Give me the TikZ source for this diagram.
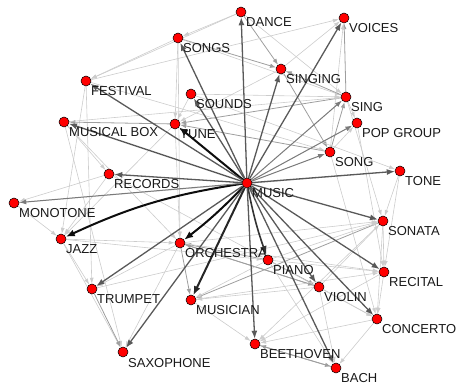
\documentclass[tikz,border=0pt]{standalone}
\usepackage{fontspec}
\setmainfont{Liberation Sans}
\usetikzlibrary{arrows.meta}
\pgfdeclarelayer{background}
\pgfsetlayers{background,main}
\tikzset{
  vert/.style={circle, fill=red, draw=black, line width=0.5pt, minimum size=10pt, inner sep=0pt},
  lab/.style={anchor=base west, inner sep=0pt, text=black!90, font=\fontsize{13}{15}\selectfont},
  lite/.style={draw=black!20, line width=0.6pt, -{Latex[length=6pt,width=4pt]}},
  mid/.style={draw=black!38, line width=0.8pt, -{Latex[length=6pt,width=4.5pt]}},
  hub/.style={draw=black!65, line width=1.3pt, -{Latex[length=8pt,width=6pt]}},
  hubl/.style={draw=black!52, line width=1pt, -{Latex[length=7pt,width=5pt]}},
  hubd/.style={draw=black!95, line width=2pt, -{Latex[length=9pt,width=7pt]}},
}
\newcommand\vtx[4]{\node[vert] (#1) at (#2,#3) {};
  \node[lab] (t#1) at ([shift={(5,15)}]#1.center) {#4};}
\newcommand\lt[2]{\draw[lite] (#1) -- (#2);}
\newcommand\md[2]{\draw[mid] (#1) -- (#2);}
\begin{document}
\begin{tikzpicture}[x=1pt,y=-1pt]
\useasboundingbox (0,0) rectangle (458,387);
% vertices and their labels
\vtx{music}{247}{183}{MUSIC}
\vtx{dance}{241}{12}{DANCE}
\vtx{voices}{344}{18}{VOICES}
\vtx{songs}{178}{38}{SONGS}
\vtx{singing}{281}{69}{SINGING}
\vtx{festival}{86}{81}{FESTIVAL}
\vtx{sounds}{191}{94}{SOUNDS}
\vtx{sing}{346}{97}{SING}
\vtx{musicalbox}{64}{122}{MUSICAL BOX}
\vtx{tune}{175}{124}{TUNE}
\vtx{popgroup}{357}{123}{POP GROUP}
\vtx{song}{330}{152}{SONG}
\vtx{tone}{400}{171}{TONE}
\vtx{records}{109}{174}{RECORDS}
\vtx{monotone}{14}{203}{MONOTONE}
\vtx{sonata}{383}{221}{SONATA}
\vtx{jazz}{61}{239}{JAZZ}
\vtx{orchestra}{180}{243}{ORCHESTRA}
\vtx{piano}{268}{260}{PIANO}
\vtx{recital}{384}{272}{RECITAL}
\vtx{violin}{319}{287}{VIOLIN}
\vtx{trumpet}{92}{289}{TRUMPET}
\vtx{musician}{191}{300}{MUSICIAN}
\vtx{concerto}{377}{319}{CONCERTO}
\vtx{beethoven}{255}{344}{BEETHOVEN}
\vtx{saxophone}{123}{352}{SAXOPHONE}
\vtx{bach}{336}{368}{BACH}
\begin{pgfonlayer}{background}
% associations among the neighbour words
\lt{dance}{songs}
\lt{dance}{festival}
\md{dance}{singing}
\lt{dance}{sing}
\md{songs}{singing}
\lt{songs}{sing}
\lt{songs}{tune}
\lt{songs}{festival}
\lt{festival}{voices}
\lt{festival}{trumpet}
\lt{festival}{jazz}
\md{sing}{singing}
\md{sing}{voices}
\lt{song}{voices}
\lt{singing}{voices}
\md{song}{sing}
\md{singing}{song}
\lt{song}{popgroup}
\lt{sing}{popgroup}
\md{sing}{tune}
\md{song}{tune}
\lt{singing}{tune}
\lt{sounds}{sing}
\lt{sounds}{tone}
\lt{sounds}{tune}
\md{tune}{musicalbox}
\lt{musicalbox}{records}
\lt{musicalbox}{saxophone}
\lt{musicalbox}{orchestra}
\lt{monotone}{tone}
\lt{monotone}{jazz}
\lt{records}{jazz}
\lt{records}{monotone}
\lt{records}{piano}
\lt{tune}{jazz}
\lt{tune}{orchestra}
\lt{jazz}{saxophone}
\lt{jazz}{trumpet}
\lt{jazz}{orchestra}
\md{trumpet}{saxophone}
\lt{orchestra}{saxophone}
\lt{orchestra}{trumpet}
\md{orchestra}{musician}
\md{piano}{orchestra}
\md{violin}{orchestra}
\md{piano}{violin}
\md{orchestra}{violin}
\md{sonata}{musician}
\lt{violin}{musician}
\lt{piano}{musician}
\lt{piano}{sonata}
\lt{piano}{recital}
\lt{piano}{concerto}
\lt{piano}{bach}
\lt{violin}{concerto}
\lt{violin}{sonata}
\lt{violin}{bach}
\lt{recital}{concerto}
\lt{sonata}{recital}
\lt{sonata}{concerto}
\lt{concerto}{beethoven}
\lt{concerto}{bach}
\md{beethoven}{bach}
\md{bach}{beethoven}
\lt{sonata}{beethoven}
\lt{recital}{beethoven}
\lt{musician}{beethoven}
\lt{tone}{sonata}
\lt{tone}{recital}
\lt{popgroup}{recital}
\lt{song}{concerto}
\lt{sing}{sonata}
\lt{orchestra}{sonata}
\lt{orchestra}{recital}
\lt{musician}{recital}
\lt{trumpet}{sonata}
\lt{jazz}{piano}
\lt{songs}{orchestra}
\lt{festival}{song}
\lt{musicalbox}{sing}
% associations from the central word
\draw[hubd] (music) to[bend right=8] (jazz);
\draw[hubd] (music) -- (tune);
\draw[hubd] (music) to[bend left=4] (orchestra);
\draw[hubd, draw=black!85] (music) -- (musician);
\draw[hubd, draw=black!80, line width=1.6pt] (music) to[bend right=4] (piano);
\draw[hub] (music) -- (records);
\draw[hubl] (music) -- (monotone);
\draw[hub] (music) -- (trumpet);
\draw[hub] (music) -- (saxophone);
\draw[hub] (music) -- (beethoven);
\draw[hub] (music) -- (bach);
\draw[hub] (music) -- (violin);
\draw[hub] (music) -- (concerto);
\draw[hub] (music) -- (recital);
\draw[hub] (music) -- (sonata);
\draw[hub] (music) -- (tone);
\draw[hubl] (music) -- (song);
\draw[hubl] (music) -- (popgroup);
\draw[hubl] (music) -- (sing);
\draw[hub] (music) -- (voices);
\draw[hub] (music) -- (singing);
\draw[hub] (music) -- (dance);
\draw[hub] (music) -- (songs);
\draw[hub] (music) -- (festival);
\draw[hub] (music) -- (musicalbox);
\draw[hub] (music) -- (sounds);
\end{pgfonlayer}
\end{tikzpicture}
\end{document}
